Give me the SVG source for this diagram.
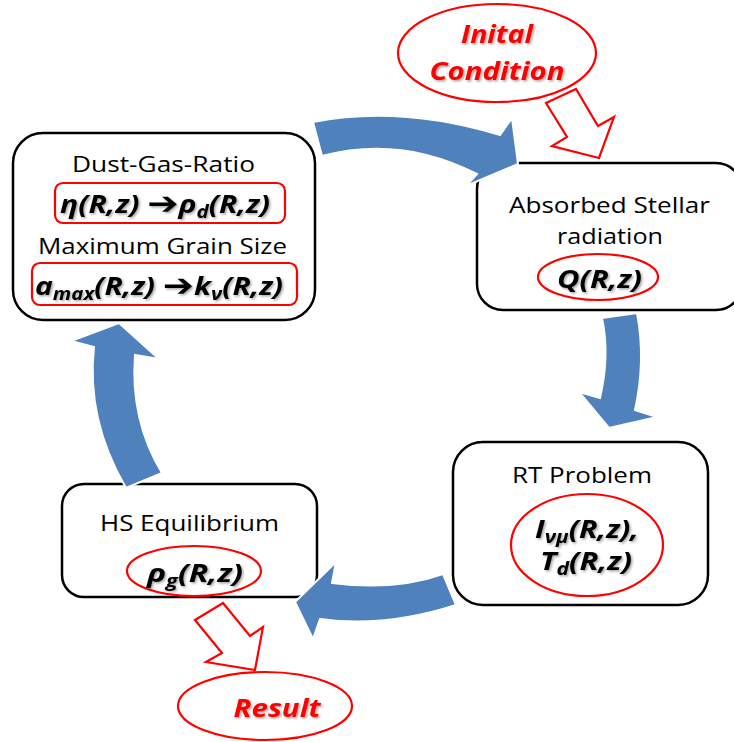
<svg xmlns="http://www.w3.org/2000/svg" width="734" height="742" viewBox="0 0 734 742">
<defs>
<filter id="sh" x="-10%" y="-20%" width="120%" height="150%">
<feDropShadow dx="1.5" dy="1.5" stdDeviation="1" flood-color="#000" flood-opacity="0.35"/>
</filter>
<style>
.box{fill:#fff;stroke:#000;stroke-width:2.5}
.rbox{fill:none;stroke:#f00;stroke-width:2.2}
.lbl{font-family:"Open Sans","Liberation Sans",sans-serif;font-size:21px;fill:#000;text-anchor:middle}
.f{font-family:"Open Sans","Liberation Sans",sans-serif;font-size:25px;font-weight:bold;font-style:italic;fill:#000;text-anchor:middle;filter:url(#sh)}
.red{font-family:"Open Sans","Liberation Sans",sans-serif;font-size:25px;font-weight:bold;font-style:italic;fill:#f00;text-anchor:middle;filter:url(#sh)}
.sub{font-size:17px}
.arr{font-family:"DejaVu Sans",sans-serif;font-style:normal;font-weight:bold;font-size:31px}
.blue{fill:#4F81BD;stroke:#fff;stroke-width:2;stroke-linejoin:miter}
.hollow{fill:#fff;stroke:#f00;stroke-width:2.2;stroke-linejoin:miter}
</style>
</defs>
<rect width="734" height="742" fill="#fff"/>

<g id="node-dust-gas">
<rect class="box" x="13" y="133" width="302" height="187" rx="30"/>
<text class="lbl" x="163.5" y="172" textLength="183" lengthAdjust="spacingAndGlyphs">Dust-Gas-Ratio</text>
<rect class="rbox" x="55" y="183" width="230" height="40" rx="8"/>
<text class="f" x="165" y="213" textLength="210" lengthAdjust="spacingAndGlyphs">η(R,z) <tspan class="arr" dy="1">➔</tspan><tspan dy="-1">ρ</tspan><tspan class="sub" dy="5">d</tspan><tspan dy="-5">(R,z)</tspan></text>
<text class="lbl" x="162.5" y="254" textLength="249" lengthAdjust="spacingAndGlyphs">Maximum Grain Size</text>
<rect class="rbox" x="32" y="263" width="265" height="42" rx="8"/>
<text class="f" x="159" y="295" textLength="248" lengthAdjust="spacingAndGlyphs">a<tspan class="sub" dy="5">max</tspan><tspan dy="-5">(R,z) </tspan><tspan class="arr" dy="1">➔</tspan><tspan dy="-1">k</tspan><tspan class="sub" dy="5">ν</tspan><tspan dy="-5">(R,z)</tspan></text>
</g>

<g id="node-absorbed">
<rect class="box" x="477" y="163" width="265" height="147" rx="26"/>
<text class="lbl" x="609.5" y="213" textLength="201" lengthAdjust="spacingAndGlyphs">Absorbed Stellar</text>
<text class="lbl" x="610" y="244" textLength="106" lengthAdjust="spacingAndGlyphs">radiation</text>
<ellipse cx="598" cy="277" rx="60" ry="23" fill="none" stroke="#f00" stroke-width="2.2"/>
<text class="f" x="599.5" y="288" textLength="85" lengthAdjust="spacingAndGlyphs">Q(R,z)</text>
</g>

<g id="node-rt">
<rect class="box" x="453" y="442" width="255" height="163" rx="30"/>
<text class="lbl" x="582" y="483" textLength="140" lengthAdjust="spacingAndGlyphs">RT Problem</text>
<ellipse cx="587" cy="545" rx="76" ry="51" fill="none" stroke="#f00" stroke-width="2.2"/>
<text class="f" x="587" y="538" textLength="104" lengthAdjust="spacingAndGlyphs">I<tspan class="sub" dy="5">νμ</tspan><tspan dy="-5">(R,z),</tspan></text>
<text class="f" x="586" y="570" textLength="92" lengthAdjust="spacingAndGlyphs">T<tspan class="sub" dy="5">d</tspan><tspan dy="-5">(R,z)</tspan></text>
</g>

<g id="node-hs">
<rect class="box" x="62" y="484" width="255" height="113" rx="22"/>
<text class="lbl" x="189.5" y="531" textLength="179" lengthAdjust="spacingAndGlyphs">HS Equilibrium</text>
<ellipse cx="194" cy="571" rx="67" ry="25" fill="none" stroke="#f00" stroke-width="2.2"/>
<text class="f" x="195" y="582" textLength="96" lengthAdjust="spacingAndGlyphs">ρ<tspan class="sub" dy="5">g</tspan><tspan dy="-5">(R,z)</tspan></text>
</g>

<g id="node-initial">
<ellipse cx="497" cy="53" rx="99" ry="49" fill="#fff" stroke="#f00" stroke-width="2.2"/>
<text class="red" x="497" y="43" textLength="72" lengthAdjust="spacingAndGlyphs">Inital</text>
<text class="red" x="497" y="80" textLength="135" lengthAdjust="spacingAndGlyphs">Condition</text>
</g>

<g id="node-result">
<ellipse cx="265" cy="706" rx="87" ry="34" fill="#fff" stroke="#f00" stroke-width="2.2"/>
<text class="red" x="277" y="717" textLength="87" lengthAdjust="spacingAndGlyphs">Result</text>
</g>

<g id="connectors">
<path class="blue" d="M313,122 Q400,105 500,135 L512,118 L518,164 L466,186 L477,174 Q400,135 322,156 Z"/>
<path class="blue" d="M602,318 L637,313 Q646,360 635,410 L657,417 L609,428 L579,392 L600,398 Q610,355 602,318 Z"/>
<path class="blue" d="M443,574 Q395,591 332,583 L336,562 L295,602 L313,639 L320,619 Q385,628 456,605 Z"/>
<path class="blue" d="M126,488 Q86,420 94,347 L71,341 L119,323 L159,359 L135,355 Q130,420 162,473 Z"/>
<polygon class="hollow" points="546,103 576,89 598,126 614,117 599,158 552,146 567,137"/>
<polygon class="hollow" points="195,620 223,603 250,636 263,627 255,670 206,662 222,653"/>
</g>
</svg>
